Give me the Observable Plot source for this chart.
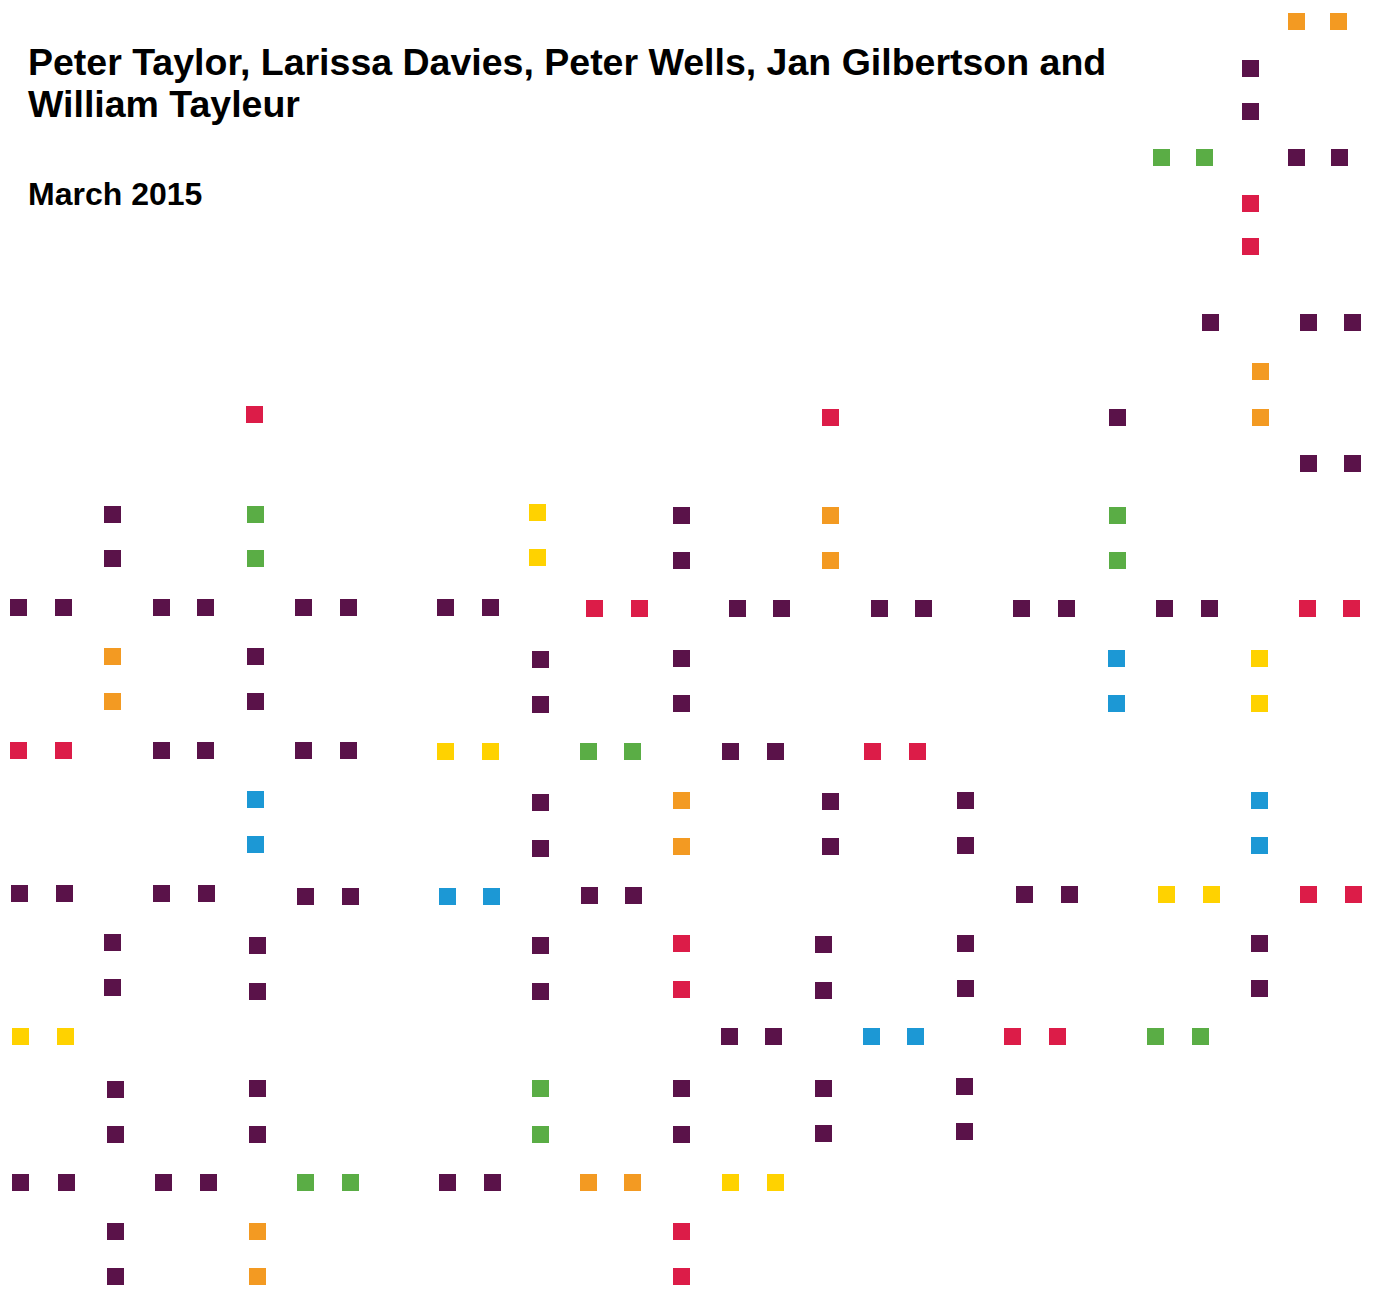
<!DOCTYPE html>
<html>
<head>
<meta charset="utf-8">
<script src="https://cdn.jsdelivr.net/npm/d3@7"></script>
<script src="https://cdn.jsdelivr.net/npm/@observablehq/plot@0.6"></script>
<style>
  html, body { margin: 0; padding: 0; background: #fff; }
  #wrap { position: relative; width: 1375px; height: 1289px; overflow: hidden; }
  #chart { position: absolute; left: 0; top: 0; }
  .title { position: absolute; left: 28px; font-family: "Liberation Sans", Arial, sans-serif; font-weight: bold; color: #000; z-index: 2; white-space: nowrap; }
  #authors { top: 41px; font-size: 37.5px; line-height: 42px; }
  #date { top: 176px; font-size: 32px; line-height: 36px; }
</style>
</head>
<body>
<div id="wrap">
  <div id="authors" class="title">Peter Taylor, Larissa Davies, Peter Wells, Jan Gilbertson and<br>William Tayleur</div>
  <div id="date" class="title">March 2015</div>
  <div id="chart"></div>
</div>
<script>
// Square positions (pixel-space coordinates of the pattern), grouped by colour series
const purpleSquares = [
  [1250,68],[1250,111],[1296,157],[1339,157],
  [1210,322],[1308,322],[1352,322],[1117,417],[1308,463],[1352,463],
  [112,514],[112,558],[681,515],[681,560],
  [18,607],[63,607],[161,607],[205,607],[303,607],[348,607],[445,607],[490,607],
  [737,608],[781,608],[879,608],[923,608],[1021,608],[1066,608],[1164,608],[1209,608],
  [255,656],[255,701],[540,659],[540,704],[681,658],[681,703],
  [161,750],[205,750],[303,750],[348,750],[730,751],[775,751],
  [540,802],[540,848],[830,801],[830,846],[965,800],[965,845],
  [19,893],[64,893],[161,893],[206,893],[305,896],[350,896],[589,895],[633,895],[1024,894],[1069,894],
  [112,942],[112,987],[257,945],[257,991],[540,945],[540,991],[823,944],[823,990],[965,943],[965,988],[1259,943],[1259,988],
  [729,1036],[773,1036],
  [115,1089],[115,1134],[257,1088],[257,1134],[681,1088],[681,1134],[823,1088],[823,1133],[964,1086],[964,1131],
  [20,1182],[66,1182],[163,1182],[208,1182],[447,1182],[492,1182],
  [115,1231],[115,1276]
];
const redSquares = [
  [1250,203],[1250,246],[254,414],[830,417],
  [594,608],[639,608],[1307,608],[1351,608],
  [18,750],[63,750],[872,751],[917,751],
  [681,943],[681,989],[1308,894],[1353,894],
  [1012,1036],[1057,1036],
  [681,1231],[681,1276]
];
const greenSquares = [
  [1161,157],[1204,157],[255,514],[255,558],[1117,515],[1117,560],
  [588,751],[632,751],[1155,1036],[1200,1036],[540,1088],[540,1134],[305,1182],[350,1182]
];
const orangeSquares = [
  [1296,21],[1338,21],[1260,371],[1260,417],[830,515],[830,560],[112,656],[112,701],
  [681,800],[681,846],[588,1182],[632,1182],[257,1231],[257,1276]
];
const yellowSquares = [
  [537,512],[537,557],[1259,658],[1259,703],[445,751],[490,751],
  [1166,894],[1211,894],[20,1036],[65,1036],[730,1182],[775,1182]
];
const blueSquares = [
  [1116,658],[1116,703],[255,799],[255,844],[447,896],[491,896],
  [1259,800],[1259,845],[871,1036],[915,1036]
];

const series = [
  {data: purpleSquares, color: "#5a1249"},
  {data: redSquares, color: "#dc1c48"},
  {data: greenSquares, color: "#5aad45"},
  {data: orangeSquares, color: "#f39a22"},
  {data: yellowSquares, color: "#ffd200"},
  {data: blueSquares, color: "#1c98d5"}
];

const side = 17;
const r = side / Math.sqrt(Math.PI);

const plot = Plot.plot({
  width: 1375,
  height: 1289,
  margin: 0,
  style: {background: "transparent", overflow: "visible"},
  x: {domain: [0, 1375], range: [0, 1375], axis: null},
  y: {domain: [0, 1289], range: [0, 1289], axis: null},
  marks: series.map(s => Plot.dot(s.data, {
    x: d => d[0],
    y: d => d[1],
    symbol: "square",
    r: r,
    fill: s.color,
    stroke: "none"
  }))
});
document.getElementById("chart").appendChild(plot);
</script>
</body>
</html>
